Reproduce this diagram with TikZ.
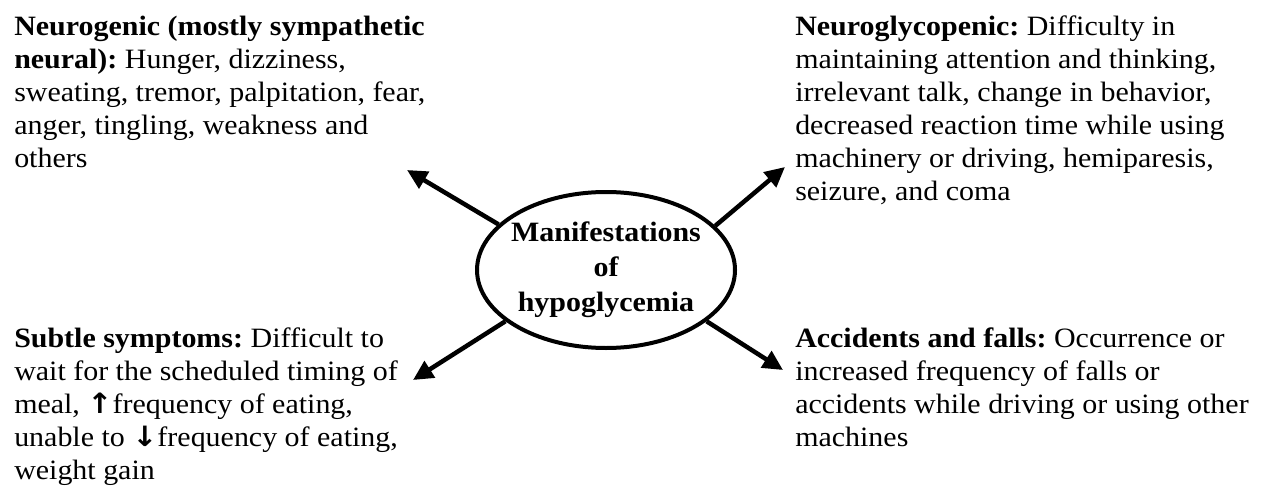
\documentclass[tikz,border=0pt]{standalone}
\usepackage{fontspec}
\setmainfont[FakeStretch=1.07]{Liberation Serif}
\newfontfamily\arrowfont[FakeStretch=1.07]{DejaVu Sans}
\usetikzlibrary{arrows.meta,shapes.geometric}
\frenchspacing

\begin{document}
\begin{tikzpicture}[x=1pt,y=-1pt,->,>={Triangle[length=20pt,width=19pt]},
    line width=4.5pt,
    box/.style={anchor=north west,inner sep=0pt,align=left,
      font=\fontsize{28}{33}\selectfont},
    hub/.style={ellipse,draw,line width=4pt,inner ysep=0pt,inner xsep=-6pt,
      align=center,minimum width=258pt,minimum height=156pt,
      font=\fontsize{28}{35}\selectfont\bfseries}]
  \useasboundingbox (0,0) rectangle (1261,492);

  \node[hub] (hypo) at (606,270) {Manifestations\\of\\hypoglycemia};

  \node[box] (neurogenic) at (12,14)
    {\textbf{Neurogenic (mostly sympathetic}\\
     \textbf{neural):} Hunger, dizziness,\\
     sweating, tremor, palpitation, fear,\\
     anger, tingling, weakness and\\
     others};
  \node[box] (neuroglyco) at (793,14)
    {\textbf{Neuroglycopenic:} Difficulty in\\
     maintaining attention and thinking,\\
     irrelevant talk, change in behavior,\\
     decreased reaction time while using\\
     machinery or driving, hemiparesis,\\
     seizure, and coma};
  \node[box] (subtle) at (12,326)
    {\textbf{Subtle symptoms:} Difficult to\\
     wait for the scheduled timing of\\
     meal, {\arrowfont\bfseries ↑}frequency of eating,\\
     unable to {\arrowfont\bfseries ↓}frequency of eating,\\
     weight gain};
  \node[box] (accidents) at (793,326)
    {\textbf{Accidents and falls:} Occurrence or\\
     increased frequency of falls or\\
     accidents while driving or using other\\
     machines};

  % arrow tips
  \coordinate (tl) at (407,170);
  \coordinate (tr) at (785,167);
  \coordinate (bl) at (413,380);
  \coordinate (br) at (783,370);

  \path (hypo.157) edge (tl);
  \path (hypo.22)  edge (tr);
  \path (hypo.207) edge (bl);
  \path (hypo.333) edge (br);
\end{tikzpicture}
\end{document}
